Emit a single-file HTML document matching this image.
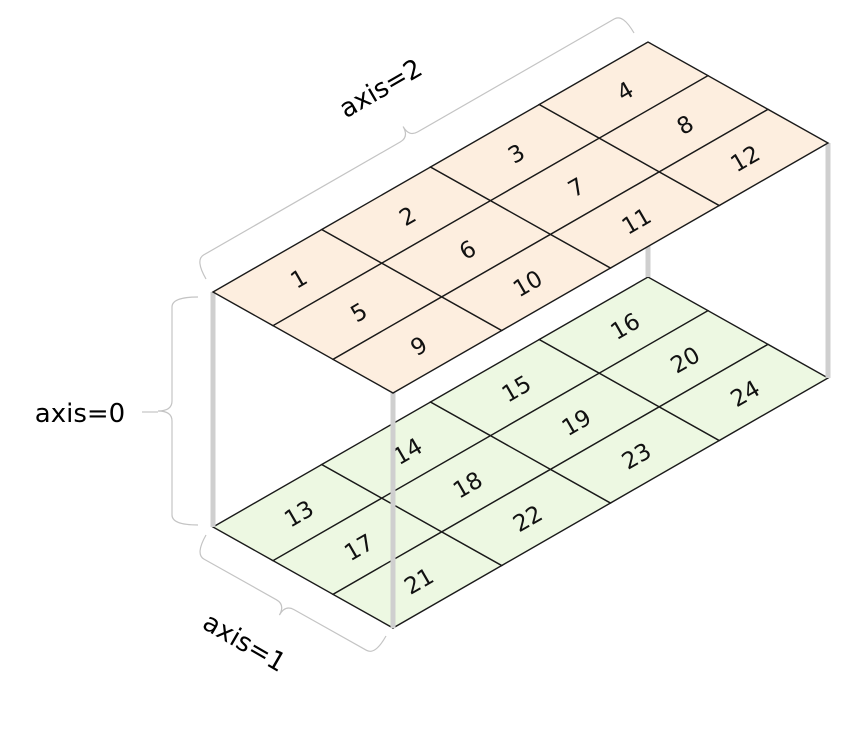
<!DOCTYPE html>
<html><head><meta charset="utf-8"><style>
html,body{margin:0;padding:0;background:#fff;}
svg{display:block;font-family:"DejaVu Sans","Liberation Sans",sans-serif;}
</style></head><body>
<svg id="fig" width="853" height="736" viewBox="0 0 853 736">
<g id="bottom"></g><g id="verts"></g><g id="top"></g><g id="braces"></g>
<text x="80" y="422" font-size="26" text-anchor="middle">axis=0</text>
<text transform="translate(385,96) rotate(-30)" font-size="26" text-anchor="middle">axis=2</text>
<text transform="translate(240,650) rotate(30)" font-size="26" text-anchor="middle">axis=1</text>
</svg>
<script>
const layers=[0,1];
const rows=[0,1,2];
const cols=[0,1,2,3];
const values=[[[1,2,3,4],[5,6,7,8],[9,10,11,12]],[[13,14,15,16],[17,18,19,20],[21,22,23,24]]];
const NS="http://www.w3.org/2000/svg";
const O={x:213,y:292},R={x:60,y:33.67},C={x:108.75,y:-62.5},L=235;
function pt(l,r,c){return {x:O.x+r*R.x+c*C.x,y:O.y+r*R.y+c*C.y+l*L};}
function el(t,a,p){const e=document.createElementNS(NS,t);for(const k in a)e.setAttribute(k,a[k]);p.appendChild(e);return e;}
layers.forEach(l=>{
  const g=document.getElementById(l===0?'top':'bottom');
  const fill=l===0?'#fdeedf':'#edf8e2';
  rows.forEach(r=>cols.forEach(c=>{
    const a=pt(l,r,c),b=pt(l,r,c+1),d=pt(l,r+1,c+1),e=pt(l,r+1,c);
    const p=el('polygon',{points:[a,b,d,e].map(q=>q.x+','+q.y).join(' '),fill:fill,stroke:'#1a1a1a','stroke-width':1.4},g);
    
    
    const m=pt(l,r+0.5,c+0.5);
    const t=el('text',{transform:`translate(${m.x+2},${m.y+2}) rotate(-30)`,'font-size':23,'text-anchor':'middle','dominant-baseline':'central',fill:'#111'},g);
    t.textContent=values[l][r][c];
    
    
  }));
});
const vg=document.getElementById('verts');
[[0,0],[3,0],[0,4],[3,4]].forEach(([r,c])=>{
  const a=pt(0,r,c),b=pt(1,r,c);
  const ln=el('line',{x1:a.x,y1:a.y,x2:b.x,y2:b.y,stroke:'#cfcfcf','stroke-width':5},vg);
  
  
});
function brace(p1,p2,n,d1,d2,r,name){
  const len=Math.hypot(p2.x-p1.x,p2.y-p1.y),t={x:(p2.x-p1.x)/len,y:(p2.y-p1.y)/len};
  const P=(b,s,k)=>({x:b.x+t.x*s+n.x*k,y:b.y+t.y*s+n.y*k});
  const m={x:(p1.x+p2.x)/2,y:(p1.y+p2.y)/2};
  const f=q=>q.x.toFixed(1)+' '+q.y.toFixed(1);
  const dstr=`M${f(p1)} Q${f(P(p1,0,d1))} ${f(P(p1,r,d1))} L${f(P(m,-r,d1))} Q${f(P(m,0,d1))} ${f(P(m,0,d1+d2))} Q${f(P(m,0,d1))} ${f(P(m,r,d1))} L${f(P(p2,-r,d1))} Q${f(P(p2,0,d1))} ${f(p2)}`;
  const p=el('path',{d:dstr,fill:'none',stroke:'#c4c4c4','stroke-width':1.2},document.getElementById('braces'));
  
  
}
brace({x:198,y:297},{x:198,y:525},{x:-1,y:0},26,14,10,'axis-0-brace');
brace({x:206,y:279},{x:634,y:33},{x:-0.498,y:-0.867},22,12,10,'axis-2-brace');
brace({x:206,y:535},{x:386,y:636},{x:-0.489,y:0.872},22,12,10,'axis-1-brace');
const ax0=el('line',{x1:142,y1:412,x2:158,y2:412,stroke:'#c4c4c4','stroke-width':1.2},document.getElementById('braces'));


</script>
</body></html>
